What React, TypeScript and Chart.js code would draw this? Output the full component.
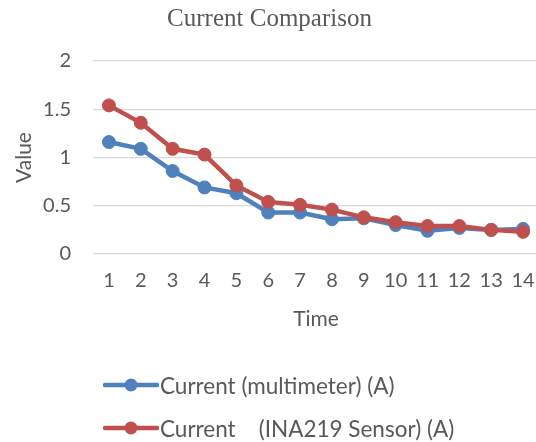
import React, { useEffect, useRef } from 'react';
import { Chart, registerables } from 'chart.js';

Chart.register(...registerables);

const categories = ['1', '2', '3', '4', '5', '6', '7', '8', '9', '10', '11', '12', '13', '14'];
const multimeterCurrent = [1.16, 1.09, 0.86, 0.69, 0.63, 0.43, 0.43, 0.36, 0.37, 0.30, 0.24, 0.27, 0.25, 0.26];
const sensorCurrent = [1.54, 1.36, 1.09, 1.03, 0.71, 0.54, 0.51, 0.46, 0.38, 0.33, 0.29, 0.29, 0.25, 0.23];
const seriesLabels = ['Current (multimeter) (A)', 'Current    (INA219 Sensor) (A)'];
const seriesColors = ['#4f81bd', '#c0504d'];
const chartTitle = 'Current Comparison';
const xAxisTitle = 'Time';
const yAxisTitle = 'Value';
const yMin = 0;
const yMax = 2;
const yStep = 0.5;

const SANS = 'Lato, "Open Sans", sans-serif';
const TEXT = '#595959';

export default function App() {
  const canvasRef = useRef<HTMLCanvasElement | null>(null);

  useEffect(() => {
    if (!canvasRef.current) return;
    const chart = new Chart(canvasRef.current, {
      type: 'line',
      data: {
        labels: categories,
        datasets: [
          {
            label: seriesLabels[0],
            data: multimeterCurrent,
            borderColor: seriesColors[0],
            backgroundColor: seriesColors[0],
            pointBackgroundColor: seriesColors[0],
            pointBorderColor: seriesColors[0],
            borderWidth: 4.5,
            pointRadius: 6.5,
            pointBorderWidth: 1,
            tension: 0,
            order: 1,
          },
          {
            label: seriesLabels[1],
            data: sensorCurrent,
            borderColor: seriesColors[1],
            backgroundColor: seriesColors[1],
            pointBackgroundColor: seriesColors[1],
            pointBorderColor: seriesColors[1],
            borderWidth: 4.5,
            pointRadius: 6.5,
            pointBorderWidth: 1,
            tension: 0,
            order: 0,
          },
        ],
      },
      options: {
        responsive: false,
        animation: false,
        devicePixelRatio: 1,
        layout: { autoPadding: false, padding: { left: 0, right: 0, top: 0, bottom: 110 } },
        plugins: {
          legend: { display: false },
          tooltip: { enabled: false },
          title: {
            display: true,
            text: chartTitle,
            color: TEXT,
            font: { family: '"Liberation Serif", "Times New Roman", serif', size: 25, weight: 'normal' },
            padding: { top: 4, bottom: 27 },
          },
        },
        scales: {
          x: {
            offset: true,
            grid: { display: false, drawTicks: false },
            border: { display: false },
            ticks: {
              color: TEXT,
              font: { family: SANS, size: 20 },
              padding: 15,
              maxRotation: 0,
              autoSkip: false,
            },
            title: {
              display: true,
              text: xAxisTitle,
              color: TEXT,
              font: { family: SANS, size: 21 },
              padding: { top: 0, bottom: 0 },
            },
            afterFit: (scale: any) => {
              scale.height = 78;
              scale.paddingLeft = 0;
              scale.paddingRight = 0;
            },
          },
          y: {
            min: yMin,
            max: yMax,
            grid: { color: '#d9d9d9', lineWidth: 1.3, drawTicks: false },
            border: { display: false },
            ticks: {
              stepSize: yStep,
              color: TEXT,
              font: { family: SANS, size: 20 },
              padding: 22,
              callback: (value: any) => String(Number(value)),
            },
            title: {
              display: true,
              text: yAxisTitle,
              color: TEXT,
              font: { family: SANS, size: 21 },
              padding: { top: 12, bottom: 0 },
            },
            afterFit: (scale: any) => {
              scale.width = 93;
            },
          },
        },
      },
    });
    return () => chart.destroy();
  }, []);

  const legendRows = seriesLabels.map((label, i) => (
    <div
      key={label}
      style={{
        position: 'absolute',
        left: 103,
        top: (i === 0 ? 385 : 428) - 14,
        height: 28,
        display: 'flex',
        alignItems: 'center',
        whiteSpace: 'pre',
        fontFamily: SANS,
        fontSize: 22.5,
        color: TEXT,
      }}
    >
      <svg width={56} height={16} style={{ display: 'block', flex: 'none' }}>
        <line x1={2} y1={8} x2={54} y2={8} stroke={seriesColors[i]} strokeWidth={4.5} strokeLinecap="round" />
        <circle cx={28} cy={8} r={6.5} fill={seriesColors[i]} />
      </svg>
      <span style={{ marginLeft: 1 }}>{label}</span>
    </div>
  ));

  return (
    <div
      style={{
        position: 'absolute',
        left: 0,
        top: 0,
        width: 536,
        height: 442,
        overflow: 'hidden',
        background: '#ffffff',
      }}
    >
      <canvas ref={canvasRef} width={539} height={442} style={{ display: 'block', width: 539, height: 442 }} />
      {legendRows}
    </div>
  );
}
